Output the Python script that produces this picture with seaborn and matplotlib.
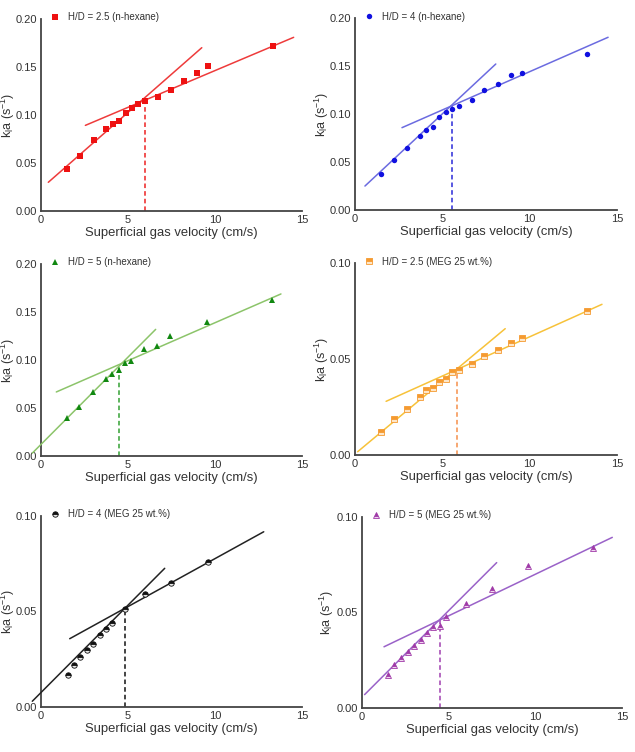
import matplotlib
matplotlib.use("Agg")
import matplotlib.pyplot as plt
import seaborn as sns
import pandas as pd

sns.set_theme(style="white")
plt.rcParams['font.family'] = ['Liberation Sans', 'DejaVu Sans']
plt.rcParams['mathtext.fontset'] = 'custom'
plt.rcParams['mathtext.rm'] = 'Liberation Sans'
plt.rcParams['mathtext.it'] = 'Liberation Sans'

# ---------------- data ----------------
labels = ["H/D = 2.5 (n-hexane)", "H/D = 4 (n-hexane)", "H/D = 5 (n-hexane)",
          "H/D = 2.5 (MEG 25 wt.%)", "H/D = 4 (MEG 25 wt.%)", "H/D = 5 (MEG 25 wt.%)"]

x1 = [1.50, 2.23, 3.02, 3.73, 4.13, 4.47, 4.88, 5.24, 5.59, 5.99, 6.72, 7.47, 8.22, 8.97, 9.60, 13.33]
y1 = [0.0438, 0.0576, 0.0736, 0.0851, 0.0906, 0.0941, 0.1017, 0.1069, 0.1111, 0.1142,
      0.1188, 0.1260, 0.1354, 0.1434, 0.1507, 0.1722]
x2 = [1.49, 2.24, 2.98, 3.73, 4.09, 4.45, 4.83, 5.20, 5.56, 5.94, 6.67, 7.41, 8.16, 8.92, 9.55, 13.28]
y2 = [0.0379, 0.0525, 0.0643, 0.0776, 0.0835, 0.0863, 0.0967, 0.1026, 0.1050, 0.1085,
      0.1151, 0.1249, 0.1311, 0.1412, 0.1430, 0.1631]
x3 = [1.50, 2.19, 2.96, 3.73, 4.09, 4.46, 4.84, 5.20, 5.93, 6.68, 7.43, 9.56, 13.29]
y3 = [0.0396, 0.0510, 0.0663, 0.0806, 0.0858, 0.0896, 0.0972, 0.0990, 0.1115, 0.1142,
      0.1247, 0.1396, 0.1628]
x4 = [1.49, 2.24, 2.98, 3.73, 4.09, 4.45, 4.83, 5.20, 5.56, 5.94, 6.67, 7.41, 8.16, 8.92, 9.55, 13.28]
y4 = [0.0118, 0.0186, 0.0240, 0.0301, 0.0339, 0.0350, 0.0383, 0.0398, 0.0431, 0.0442,
      0.0473, 0.0515, 0.0546, 0.0586, 0.0612, 0.0753]
x5 = [1.53, 1.88, 2.26, 2.62, 2.99, 3.37, 3.74, 4.10, 4.85, 5.98, 7.47, 9.62]
y5 = [0.0167, 0.0220, 0.0260, 0.0298, 0.0331, 0.0375, 0.0408, 0.0437, 0.0510, 0.0589,
      0.0650, 0.0756]
x6 = [1.48, 1.86, 2.24, 2.63, 3.01, 3.38, 3.76, 4.12, 4.49, 4.85, 5.98, 7.48, 9.59, 13.31]
y6 = [0.0174, 0.0223, 0.0261, 0.0292, 0.0325, 0.0357, 0.0393, 0.0423, 0.0431, 0.0477,
      0.0546, 0.0621, 0.0743, 0.0837]

# fitted lines (end points): steep (low-velocity) and shallow (high-velocity) regimes
steep_x = [[0.42, 9.24], [0.57, 8.06], [-0.50, 6.59], [0.15, 8.60], [-0.50, 7.11], [0.15, 7.77]]
steep_y = [[0.0299, 0.1701], [0.0250, 0.1523], [0.0030, 0.1319], [0.0017, 0.0659], [0.0030, 0.0725], [0.0070, 0.0760]]
shal_x = [[2.55, 14.52], [2.69, 14.49], [0.88, 13.79], [1.78, 14.14], [1.65, 12.80], [1.27, 14.44]]
shal_y = [[0.0892, 0.1809], [0.0859, 0.1802], [0.0667, 0.1688], [0.0280, 0.0786], [0.0357, 0.0916], [0.0320, 0.0892]]
# transition velocity (dashed line) and its height
trans_x = [5.97, 5.56, 4.46, 5.85, 4.85, 4.49]
trans_y = [0.1150, 0.1080, 0.0930, 0.0450, 0.0520, 0.0465]

xs = [x1, x2, x3, x4, x5, x6]
ys = [y1, y2, y3, y4, y5, y6]
ymax = [0.20, 0.20, 0.20, 0.10, 0.10, 0.10]
yticks = [[0, 0.05, 0.10, 0.15, 0.20]] * 3 + [[0, 0.05, 0.10]] * 3
xticks = [0, 5, 10, 15]

# ---------------- styles ----------------
mk_col = ["#ee1111", "#1010e0", "#118811", "#f59a30", "#111111", "#a03aa8"]
mk_alt = ["none", "none", "none", "#fde6c8", "#e6e6e6", "#efd6f0"]
mk_fill = ["full", "full", "full", "top", "top", "top"]
markers = ["s", "o", "^", "s", "o", "^"]
msize = [3.8, 3.9, 4.4, 4.0, 3.9, 4.6]
ln_col = ["#ee3b3b", "#6b6be0", "#8cc46a", "#f7c23a", "#222222", "#9a62c8"]
dash_col = ["#ee2222", "#2a2ad8", "#33a033", "#f5904a", "#111111", "#a040b0"]

W, H = 635, 752
boxes = [(41, 302, 19, 211), (355, 617, 18.3, 210), (41, 302, 264, 456),
         (355, 617, 263.3, 455), (41, 302, 515.7, 707), (362, 622, 516.7, 708)]
ylab_right = [17, 331, 17, 331, 17, 336]   # pixel x of y-label's right edge

fig = plt.figure(figsize=(W / 100, H / 100), dpi=100)
fig.patch.set_facecolor("white")

for i in range(6):
    l, r, t, b = boxes[i]
    ax = fig.add_axes([l / W, 1 - b / H, (r - l) / W, (b - t) / H])
    df = pd.DataFrame({"x": xs[i], "y": ys[i]})
    sns.lineplot(data=df, x="x", y="y", ax=ax, linestyle="none", marker=markers[i],
                 markersize=msize[i], color=mk_col[i], markeredgecolor=mk_col[i],
                 markeredgewidth=0.6 if mk_fill[i] == "top" else 0,
                 fillstyle=mk_fill[i], markerfacecoloralt=mk_alt[i],
                 label=labels[i], zorder=4)
    dsteep = pd.DataFrame({"x": steep_x[i], "y": steep_y[i]})
    dshal = pd.DataFrame({"x": shal_x[i], "y": shal_y[i]})
    sns.lineplot(data=dsteep, x="x", y="y", ax=ax, color=ln_col[i], lw=1.1,
                 clip_on=False, zorder=3)
    sns.lineplot(data=dshal, x="x", y="y", ax=ax, color=ln_col[i], lw=1.1,
                 clip_on=False, zorder=3)
    ax.vlines(trans_x[i], 0, trans_y[i], colors=dash_col[i], linestyles=(0, (3, 2)),
              lw=1.1, zorder=2)

    ax.set_xlim(0, 15)
    ax.set_ylim(0, ymax[i])
    ax.set_xticks(xticks)
    ax.set_yticks(yticks[i])
    ax.set_yticklabels([f"{v:.2f}" for v in yticks[i]])
    ax.tick_params(axis="both", length=0, labelsize=8.0, colors="#333333", pad=3)
    ax.set_xlabel("Superficial gas velocity (cm/s)", fontsize=9.4, color="#333333", labelpad=1)
    ax.set_ylabel(r"k$_\mathregular{l}$a (s$^\mathregular{-1}$)", fontsize=9.0,
                  color="#333333")
    ax.yaxis.set_label_coords((ylab_right[i] - l) / (r - l), 0.5)
    for s in ["top", "right"]:
        ax.spines[s].set_visible(False)
    for s in ["left", "bottom"]:
        ax.spines[s].set_color("#444444")
        ax.spines[s].set_linewidth(1.3)
    ax.set_facecolor("white")

    h, lab = ax.get_legend_handles_labels()
    ax.legend(h[:1], lab[:1], loc="upper left", bbox_to_anchor=(0.02, 1.055),
              frameon=False, fontsize=7.0, handlelength=1.0, handletextpad=0.8,
              borderaxespad=0, labelcolor="#333333")

fig.savefig("out.png", dpi=100, facecolor="white")
